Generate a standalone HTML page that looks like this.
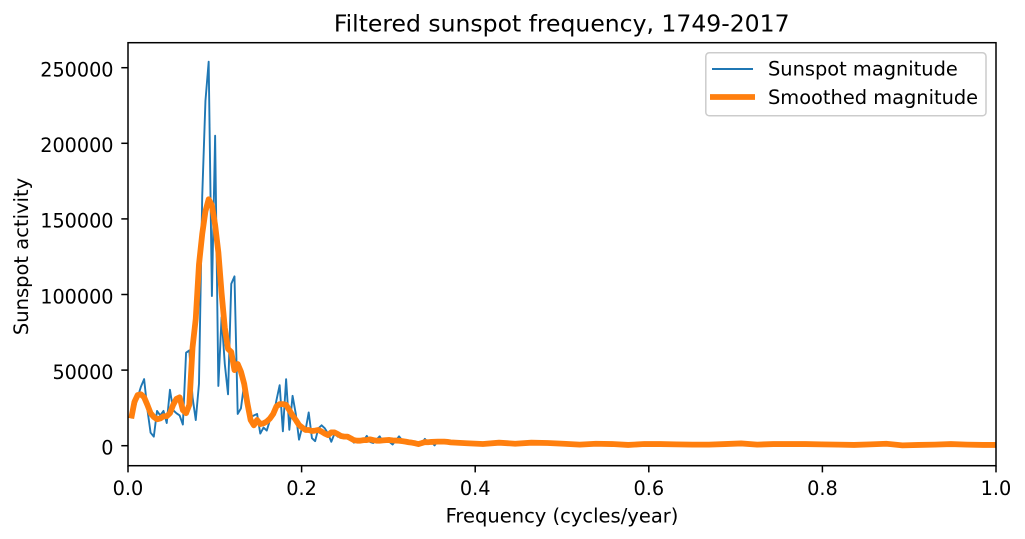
<!DOCTYPE html>
<html>
<head>
<meta charset="utf-8">
<title>Filtered sunspot frequency, 1749-2017</title>
<style>
html,body{margin:0;padding:0;background:#fff;}
svg{display:block;}
text{font-family:"DejaVu Sans","Liberation Sans",sans-serif;fill:#000;}
</style>
</head>
<body>
<svg id="chart" xmlns="http://www.w3.org/2000/svg" width="1025" height="539" viewBox="0 0 1025 539">
  <defs><clipPath id="plot-clip"><rect x="128" y="42.7" width="868" height="423"/></clipPath></defs>
  <g id="series" clip-path="url(#plot-clip)"></g>
  <g id="axes"></g>
  <text x="561.7" y="31.7" font-size="23.5" text-anchor="middle">Filtered sunspot frequency, 1749-2017</text>
  <text x="562" y="522.5" font-size="19.5" text-anchor="middle">Frequency (cycles/year)</text>
  <text transform="translate(28,256.5) rotate(-90)" font-size="19.5" text-anchor="middle">Sunspot activity</text>
  <g>
    <rect x="705.8" y="52.8" width="280.2" height="63" rx="3.5" fill="#fff" fill-opacity="0.8" stroke="#ccc" stroke-width="1.5"/>
    <line x1="712" y1="69" x2="753" y2="69" stroke="#1f77b4" stroke-width="1.9"/>
    <text x="768" y="75.5" font-size="19.4">Sunspot magnitude</text>
    <line x1="710" y1="97" x2="755" y2="97" stroke="#ff7f0e" stroke-width="5.8"/>
    <text x="768" y="104.2" font-size="19.4">Smoothed magnitude</text>
  </g>
</svg>
<script>
var harmonics = [1,2,3,4,5,6,7,8,9,10,11,12,13,14,15,16,17,18,19,20,21,22,23,24,25,26,27,28,29,30,31,32,33,34,35,36,37,38,39,40,41,42,43,44,45,46,47,48,49,50,51,52,53,54,55,56,57,58,59,60,61,62,63,64,65,66,67,68,69,70,71,72,73,74,75,76,77,78,79,80,81,82,83,84,85,86,87,88,89,90,91,92,93,94,95,96,97,98,99,100,105,110,115,120,125,130,135,140,145,150,155,160,165,170,175,180,185,190,195,200,205,210,215,220,225,230,235,240,245,250,255,260,265,269];
var recordYears = 269;
var sunspotMagnitude = [18000,24000,32000,39000,44000,24000,8600,6000,23000,20000,23000,15000,37000,23500,21500,20000,14000,61500,63000,32000,17000,41000,165000,228000,254000,99000,205000,39500,85000,54000,34000,107000,112000,21000,24700,41000,28000,19000,20000,21000,8000,12000,10000,17000,19000,30000,40000,9500,44000,10500,33000,21000,4000,12500,10000,22000,5000,3000,11500,13500,11500,8000,2600,8000,6000,7000,5000,5500,4500,2000,4000,3000,3500,6500,2500,1800,4000,6200,2500,3500,2500,800,3500,6200,3500,2500,2500,2000,2000,1800,1500,4500,2000,2500,200,3000,2800,2500,2300,2000,1400,1000,2200,1200,2100,1700,1100,800,1400,1000,600,1200,1000,800,600,800,1200,1600,600,1200,900,1000,800,800,500,800,1400,300,600,800,1100,700,600,600];
var smoothedMagnitude = [18000,29000,33500,34000,32000,27000,21500,19000,17500,18000,19500,19500,21500,27000,31000,32000,23500,21500,27000,65000,84000,120000,140000,155000,163000,159000,146000,128000,101000,78000,64000,62000,50000,54000,49000,41000,28000,17000,13500,17000,14300,14800,16000,18000,21000,26000,27500,27500,27000,23500,20000,17000,13700,12000,10400,10400,9700,10000,10400,9300,8000,7000,8800,8800,7700,6400,6000,6000,4900,3700,3300,3300,3700,3700,4200,3700,3300,3300,3500,3700,3800,3500,3400,3300,3000,2700,2300,2000,1600,1100,1700,2400,2300,2500,2600,2700,2700,2700,2500,2200,1600,1100,2000,1300,2000,1800,1300,700,1300,1100,500,1100,1100,900,700,700,1100,1500,700,1100,1100,1100,900,700,500,900,1300,200,500,700,1100,700,500,500];
var xTicks = [0,0.2,0.4,0.6,0.8,1];
var xTickLabels = ["0.0","0.2","0.4","0.6","0.8","1.0"];
var yTicks = [0,50000,100000,150000,200000,250000];
var yTickLabels = ["0","50000","100000","150000","200000","250000"];

var NS = "http://www.w3.org/2000/svg";
function xScale(f){ return 128 + f * 868; }
function yScale(v){ return 445.7 - v * (378 / 250000); }
function make(tag, attrs, parent){
  var el = document.createElementNS(NS, tag);
  for (var k in attrs) el.setAttribute(k, attrs[k]);
  parent.appendChild(el);
  return el;
}
function linePoints(values){
  return values.map(function(v, i){
    return xScale(harmonics[i] / recordYears).toFixed(2) + "," + yScale(v).toFixed(2);
  }).join(" ");
}
var seriesGroup = document.getElementById("series");
var axesGroup = document.getElementById("axes");

var sunspotLine = make("polyline", {points: linePoints(sunspotMagnitude), fill: "none", stroke: "#1f77b4", "stroke-width": 1.9, "stroke-linejoin": "round"}, seriesGroup);



var smoothedLine = make("polyline", {points: linePoints(smoothedMagnitude), fill: "none", stroke: "#ff7f0e", "stroke-width": 5.8, "stroke-linejoin": "round", "stroke-linecap": "butt"}, seriesGroup);



xTicks.forEach(function(t, i){
  var x = xScale(t);
  var tick = make("line", {x1: x, x2: x, y1: 465.7, y2: 472.4, stroke: "#000", "stroke-width": 1.5}, axesGroup);
  
  
  var label = make("text", {x: x, y: 495, "font-size": 19.3, "text-anchor": "middle"}, axesGroup);
  label.textContent = xTickLabels[i];
  
  
});
yTicks.forEach(function(t, i){
  var y = yScale(t);
  var tick = make("line", {x1: 121.3, x2: 128, y1: y, y2: y, stroke: "#000", "stroke-width": 1.5}, axesGroup);
  
  
  var label = make("text", {x: 113.5, y: y + 8.8, "font-size": 19.2, "text-anchor": "end"}, axesGroup);
  label.textContent = yTickLabels[i];
  
  
});
var frame = make("rect", {x: 128, y: 42.7, width: 868, height: 423, fill: "none", stroke: "#000", "stroke-width": 1.5}, axesGroup);


</script>
</body>
</html>
